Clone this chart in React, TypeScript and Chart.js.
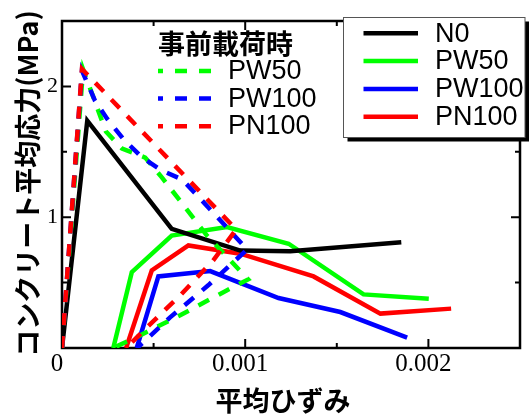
import { useEffect, useRef } from 'react';
import { Chart, registerables } from 'chart.js';

Chart.register(...registerables);

// 平均ひずみ (strain) and コンクリート平均応力 (MPa) for each specimen after pre-loading
const n0Strain = [0, 0.000138, 0.000599, 0.000973, 0.001246, 0.001852];
const n0Stress = [0, 1.738, 0.911, 0.745, 0.74, 0.809];

const pw50Strain = [0.00028, 0.000381, 0.000599, 0.0009, 0.001237, 0.001646, 0.002002];
const pw50Stress = [0, 0.58, 0.86, 0.924, 0.797, 0.41, 0.377];

const pw100Strain = [0.000408, 0.000526, 0.000809, 0.001182, 0.001519, 0.001884];
const pw100Stress = [0, 0.547, 0.588, 0.382, 0.275, 0.079];

const pn100Strain = [0.00035, 0.00049, 0.00069, 0.000973, 0.001373, 0.001738, 0.002124];
const pn100Stress = [0, 0.593, 0.784, 0.721, 0.547, 0.263, 0.301];

// 事前載荷時 (pre-loading) loops
const pw50PreStrain = [0, 0.000115, 0.00024, 0.000328, 0.000454, 0.000546, 0.000791, 0.001016, 0.000881, 0.000645, 0.000408, 0.00028];
const pw50PreStress = [0, 2.131, 1.654, 1.524, 1.456, 1.303, 0.86, 0.524, 0.427, 0.25, 0.084, 0];

const pw100PreStrain = [0, 0.000109, 0.00018, 0.000246, 0.000333, 0.000437, 0.000546, 0.000656, 0.000754, 0.001011, 0.000798, 0.00059, 0.00041];
const pw100PreStress = [0, 2.12, 1.891, 1.753, 1.601, 1.456, 1.356, 1.288, 1.143, 0.753, 0.479, 0.234, 0];

const pn100PreStrain = [0, 0.000109, 0.000951, 0.000825, 0.000645, 0.000464, 0.00035];
const pn100PreStress = [0, 2.133, 0.906, 0.669, 0.402, 0.158, 0];

const xTickValues = [0, 0.001, 0.002];
const xTickText = ['0', '0.001', '0.002'];
const yTickValues = [1, 2];
const yTickText = ['1', '2'];

const xTitle = '平均ひずみ';
const yTitle = 'コンクリート平均応力(MPa)';
const preloadTitle = '事前載荷時';

const mainLabels = ['N0', 'PW50', 'PW100', 'PN100'];
const preloadLabels = ['PW50', 'PW100', 'PN100'];

const seriesColor: Record<string, string> = {
  N0: '#000000',
  PW50: '#00ff00',
  PW100: '#0000ff',
  PN100: '#ff0000',
};

const DASH = [12, 11];
const LINE_W = 4.5;
const JP_FONT = "'Noto Sans CJK JP', 'Noto Sans', sans-serif";
const LATIN_FONT = "'Liberation Sans', Arial, sans-serif";
const TICK_FONT = "'Liberation Serif', 'Times New Roman', serif";

const toPoints = (xs: number[], ys: number[]) => xs.map((x, i) => ({ x, y: ys[i] }));

const labelFor = (values: number[], texts: string[]) => (v: number | string) => {
  const n = Number(v);
  const i = values.findIndex((t) => Math.abs(t - n) < 1e-9);
  return i >= 0 ? texts[i] : '';
};

// Boxed frame with inward tick marks on all four sides
const framePlugin = {
  id: 'frameTicks',
  beforeDatasetsDraw(chart: any) {
    const { ctx, chartArea: a, scales } = chart;
    ctx.save();
    ctx.strokeStyle = '#000';
    ctx.lineWidth = 2.5;
    ctx.strokeRect(a.left, a.top, a.right - a.left, a.bottom - a.top);
    ctx.lineWidth = 2;
    const xs = scales.x;
    const ys = scales.y;
    xs.ticks.forEach((t: any) => {
      const v = t.value;
      if (v <= xs.min + 1e-12 || v >= xs.max - 1e-12) return;
      const major = Math.abs(v / 0.001 - Math.round(v / 0.001)) < 1e-6;
      const len = major ? 9 : 5;
      const px = xs.getPixelForValue(v);
      ctx.beginPath();
      ctx.moveTo(px, a.bottom);
      ctx.lineTo(px, a.bottom - len);
      ctx.moveTo(px, a.top);
      ctx.lineTo(px, a.top + len);
      ctx.stroke();
    });
    ys.ticks.forEach((t: any) => {
      const v = t.value;
      if (v <= ys.min + 1e-9 || v >= ys.max - 1e-9) return;
      const major = Math.abs(v - Math.round(v)) < 1e-6;
      const len = major ? 9 : 5;
      const py = ys.getPixelForValue(v);
      ctx.beginPath();
      ctx.moveTo(a.left, py);
      ctx.lineTo(a.left + len, py);
      ctx.moveTo(a.right, py);
      ctx.lineTo(a.right - len, py);
      ctx.stroke();
    });
    ctx.restore();
  },
  afterDraw(chart: any) {
    const { ctx, chartArea: a } = chart;
    ctx.save();

    // axis titles
    ctx.fillStyle = '#000';
    ctx.font = `bold 27px ${JP_FONT}`;
    ctx.textAlign = 'center';
    ctx.textBaseline = 'middle';
    ctx.fillText(xTitle, (a.left + a.right) / 2 - 8, 401);
    ctx.save();
    ctx.translate(27.5, 183.5);
    ctx.rotate(-Math.PI / 2);
    ctx.fillText(yTitle, 0, 0);
    ctx.restore();

    // pre-loading legend (no box)
    ctx.textAlign = 'left';
    ctx.fillText(preloadTitle, 158, 43.5);
    ctx.font = `27px ${LATIN_FONT}`;
    preloadLabels.forEach((label, i) => {
      const y = 71 + i * 27.6;
      ctx.save();
      ctx.strokeStyle = seriesColor[label];
      ctx.lineWidth = LINE_W;
      ctx.setLineDash([12, 12]);
      ctx.lineDashOffset = 7;
      ctx.beginPath();
      ctx.moveTo(158, y);
      ctx.lineTo(213, y);
      ctx.stroke();
      ctx.restore();
      ctx.fillText(label, 228, y + 0.8);
    });

    // main legend box with drop shadow
    const bx = 343.5;
    const by = 17.5;
    const bw = 181.5;
    const bh = 120;
    ctx.fillStyle = '#000';
    ctx.fillRect(bx + 4, by + 4, bw, bh);
    ctx.fillStyle = '#fff';
    ctx.fillRect(bx, by, bw, bh);
    ctx.strokeStyle = '#555';
    ctx.lineWidth = 1;
    ctx.strokeRect(bx, by, bw, bh);
    mainLabels.forEach((label, i) => {
      const y = 33.3 + i * 27.8;
      ctx.strokeStyle = seriesColor[label];
      ctx.lineWidth = LINE_W;
      ctx.setLineDash([]);
      ctx.beginPath();
      ctx.moveTo(363.5, y);
      ctx.lineTo(418, y);
      ctx.stroke();
      ctx.fillStyle = '#000';
      ctx.fillText(label, 435, y + 0.8);
    });
    ctx.restore();
  },
};

export default function App() {
  const canvasRef = useRef<HTMLCanvasElement | null>(null);

  useEffect(() => {
    const canvas = canvasRef.current;
    if (!canvas) return;

    const solid = (label: string, xs: number[], ys: number[]) => ({
      label,
      data: toPoints(xs, ys),
      borderColor: seriesColor[label],
      backgroundColor: seriesColor[label],
      borderWidth: LINE_W,
      showLine: true,
      pointRadius: 0,
      tension: 0,
      order: 1,
    });
    const dashed = (label: string, xs: number[], ys: number[]) => ({
      ...solid(label, xs, ys),
      borderDash: DASH,
      order: 0,
    });

    const chart = new Chart(canvas, {
      type: 'scatter',
      data: {
        datasets: [
          dashed('PN100', pn100PreStrain, pn100PreStress),
          dashed('PW100', pw100PreStrain, pw100PreStress),
          dashed('PW50', pw50PreStrain, pw50PreStress),
          solid('N0', n0Strain, n0Stress),
          solid('PW50', pw50Strain, pw50Stress),
          solid('PW100', pw100Strain, pw100Stress),
          solid('PN100', pn100Strain, pn100Stress),
        ],
      },
      options: {
        responsive: false,
        devicePixelRatio: 1,
        animation: false,
        events: [],
        layout: { padding: { top: 21, right: 9, left: 0, bottom: 0 } },
        plugins: {
          legend: { display: false },
          tooltip: { enabled: false },
        },
        scales: {
          x: {
            type: 'linear',
            position: 'bottom',
            min: 0,
            max: 0.0025,
            grid: { display: false, drawTicks: false },
            border: { display: false },
            ticks: {
              stepSize: 0.0005,
              autoSkip: false,
              maxRotation: 0,
              padding: 1,
              labelOffset: -5,
              color: '#000',
              font: { family: TICK_FONT, size: 25 },
              callback: labelFor(xTickValues, xTickText),
            },
            afterFit: (scale: any) => {
              scale.height = 67;
            },
          },
          y: {
            type: 'linear',
            min: 0,
            max: 2.5,
            grid: { display: false, drawTicks: false },
            border: { display: false },
            ticks: {
              stepSize: 0.5,
              autoSkip: false,
              padding: 4,
              color: '#000',
              font: { family: TICK_FONT, size: 22 },
              callback: labelFor(yTickValues, yTickText),
            },
            afterFit: (scale: any) => {
              scale.width = 62;
            },
          },
        },
      } as any,
      plugins: [framePlugin],
    });

    return () => chart.destroy();
  }, []);

  return (
    <div style={{ position: 'absolute', left: 0, top: 0, width: 529, height: 415, background: '#fff' }}>
      <canvas ref={canvasRef} width={529} height={415} style={{ display: 'block' }} />
    </div>
  );
}
